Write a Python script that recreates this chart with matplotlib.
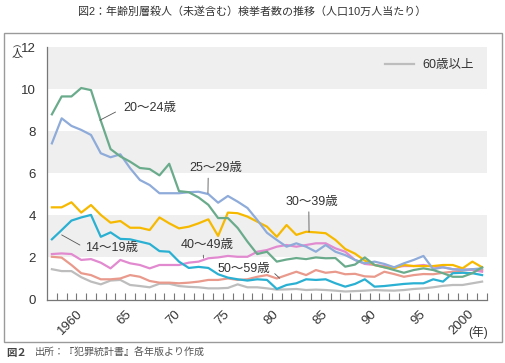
import numpy as np
import matplotlib
matplotlib.use('Agg')
import matplotlib.pyplot as plt
from matplotlib.patches import Rectangle

plt.rcParams['font.family'] = ['Liberation Sans', 'Noto Sans CJK JP']

years = np.arange(1957, 2002)

age_20_24 = [8.8, 9.65, 9.65, 10.05, 9.95, 8.5, 7.15, 6.8, 6.55, 6.25,
             6.2, 5.9, 6.45, 5.15, 5.1, 4.85, 4.5, 3.87, 3.87, 3.4,
             2.75, 2.16, 2.27, 1.8, 1.9, 1.97, 1.92, 2.0, 1.96, 1.97,
             1.56, 1.66, 2.0, 1.64, 1.53, 1.4, 1.27, 1.4, 1.48, 1.4,
             1.25, 1.08, 1.08, 1.25, 1.53]
age_25_29 = [7.42, 8.61, 8.25, 8.06, 7.82, 6.95, 6.76, 6.9, 6.24, 5.68,
             5.44, 5.05, 5.05, 5.05, 5.1, 5.12, 5.01, 4.6, 4.92, 4.65,
             4.35, 3.78, 3.17, 2.83, 2.51, 2.67, 2.51, 2.27, 2.59, 2.27,
             2.11, 1.88, 1.72, 1.8, 1.69, 1.53, 1.72, 1.88, 2.07, 1.44,
             1.53, 1.44, 1.4, 1.44, 1.48]
age_30_39 = [4.38, 4.38, 4.62, 4.13, 4.49, 4.02, 3.65, 3.73, 3.41, 3.41,
             3.3, 3.9, 3.62, 3.38, 3.46, 3.62, 3.81, 3.02, 4.13, 4.1,
             3.94, 3.7, 3.46, 2.98, 3.54, 3.07, 3.22, 3.19, 3.15, 2.83,
             2.4, 2.18, 1.85, 1.64, 1.53, 1.48, 1.64, 1.59, 1.59, 1.59,
             1.64, 1.64, 1.48, 1.8, 1.53]
age_14_19 = [2.86, 3.3, 3.75, 3.9, 4.02, 2.98, 3.19, 2.88, 2.86, 2.75,
             2.64, 2.3, 2.27, 1.8, 1.5, 1.55, 1.5, 1.2, 1.04, 0.96,
             0.9, 0.96, 0.93, 0.5, 0.69, 0.77, 0.96, 0.93, 0.96, 0.77,
             0.61, 0.74, 0.96, 0.61, 0.64, 0.69, 0.74, 0.77, 0.77, 0.96,
             0.85, 1.25, 1.27, 1.25, 1.16]
age_40_49 = [2.16, 2.19, 2.16, 1.88, 1.92, 1.75, 1.48, 1.88, 1.72, 1.64,
             1.48, 1.64, 1.64, 1.64, 1.75, 1.8, 1.96, 2.0, 2.07, 2.03,
             2.03, 2.27, 2.35, 2.51, 2.59, 2.51, 2.59, 2.67, 2.67, 2.43,
             2.27, 1.88, 1.69, 1.64, 1.59, 1.53, 1.59, 1.59, 1.64, 1.56,
             1.53, 1.44, 1.44, 1.4, 1.32]
age_50_59 = [2.03, 1.99, 1.64, 1.25, 1.16, 0.96, 0.96, 1.0, 1.16, 1.08,
             0.88, 0.8, 0.8, 0.77, 0.8, 0.85, 0.93, 0.93, 1.0, 0.93,
             0.96, 1.08, 1.16, 1.0, 1.16, 1.32, 1.16, 1.4, 1.27, 1.32,
             1.2, 1.22, 1.1, 1.08, 1.32, 1.21, 1.08, 1.16, 1.21, 1.2,
             1.27, 1.32, 1.37, 1.44, 1.4]
age_60_up = [1.44, 1.35, 1.35, 1.06, 0.85, 0.72, 0.9, 0.93, 0.69, 0.64,
             0.58, 0.75, 0.75, 0.64, 0.6, 0.58, 0.53, 0.53, 0.55, 0.72,
             0.58, 0.58, 0.53, 0.47, 0.48, 0.5, 0.45, 0.47, 0.45, 0.42,
             0.38, 0.4, 0.42, 0.45, 0.43, 0.42, 0.45, 0.5, 0.53, 0.58,
             0.65, 0.69, 0.69, 0.77, 0.85]

tick_years = [1960, 1965, 1970, 1975, 1980, 1985, 1990, 1995, 2000]
tick_labels = ['1960', '65', '70', '75', '80', '85', '90', '95', '2000']

fig = plt.figure(figsize=(5.05, 3.63), dpi=100)
ax = fig.add_axes([47 / 505, 1 - 299.5 / 363, 440 / 505, 252.5 / 363])

# outer frame and texts
fig.patches.append(Rectangle((4 / 505, 1 - 342 / 363), 498 / 505, 309 / 363,
                             transform=fig.transFigure, fill=False,
                             edgecolor='#9a9a9a', lw=1.0))
fig.text(0.5, 1 - 12 / 363, '図2：年齢別層殺人（未遂含む）検挙者数の推移（人口10万人当たり）',
         ha='center', va='center', fontsize=7.9, color='#333333')
fig.text(6 / 505, 1 - 353 / 363, '図２', ha='left', va='center', fontsize=7.5,
         color='#444444', fontweight='bold')
fig.text(35 / 505, 1 - 353 / 363, '出所：『犯罪統計書』各年版より作成', ha='left',
         va='center', fontsize=7.2, color='#555555')

# background bands
for lo in [2, 6, 10]:
    ax.axhspan(lo, lo + 2, color='#efefef', lw=0, zorder=0)

ax.plot(years, age_60_up, color='#bdbdbd', lw=1.6, label='60歳以上')
ax.plot(years, age_50_59, color='#e99a8c', lw=1.6)
ax.plot(years, age_40_49, color='#e28ad0', lw=1.6)
ax.plot(years, age_14_19, color='#2ab0d2', lw=1.6)
ax.plot(years, age_30_39, color='#f6b900', lw=1.6)
ax.plot(years, age_25_29, color='#8eabd9', lw=1.6)
ax.plot(years, age_20_24, color='#6aab8c', lw=1.6)

ax.set_xlim(1956.5, 2001.5)
ax.set_ylim(0, 12)
ax.set_yticks(range(0, 13, 2))
ax.set_xticks(tick_years)
ax.set_xticklabels(tick_labels, rotation=45, ha='right', va='center',
                   rotation_mode='anchor')
ax.set_xticks(np.arange(1957.5, 2002, 1), minor=True)
ax.tick_params(axis='x', which='major', length=0, pad=9, labelsize=9.5,
               labelcolor='#333333')
ax.tick_params(axis='x', which='minor', length=5, direction='in',
               color='#777777', width=0.8)
ax.tick_params(axis='y', length=0, pad=8, labelsize=9.5, labelcolor='#333333')
for s in ['top', 'right']:
    ax.spines[s].set_visible(False)
for s in ['left', 'bottom']:
    ax.spines[s].set_color('#777777')
    ax.spines[s].set_linewidth(0.9)

# unit labels
fig.text(17 / 505, 1 - 46 / 363, '︵', ha='center', va='center', fontsize=6, color='#333333')
fig.text(17 / 505, 1 - 53 / 363, '人', ha='center', va='center', fontsize=8, color='#333333')
fig.text(17 / 505, 1 - 61 / 363, '︶', ha='center', va='center', fontsize=6, color='#333333')
fig.text(478 / 505, 1 - 332 / 363, '(年)', ha='center', va='center', fontsize=8.5,
         color='#333333')

# series labels
lab = dict(fontsize=9, color='#333333')
arr = dict(arrowstyle='-', color='#555555', lw=0.6, shrinkB=0)
ax.annotate('20～24歳', xy=(1961.9, 8.52), xytext=(1964.3, 9.1), ha='left', va='center',
            arrowprops=dict(arr, shrinkA=4, relpos=(0, 0.5)), **lab)
ax.annotate('25～29歳', xy=(1972.96, 5.06), xytext=(1973.8, 6.25), ha='center',
            va='center', arrowprops=dict(arr, shrinkA=1, relpos=(0.35, 0)), **lab)
ax.annotate('30～39歳', xy=(1983.3, 3.21), xytext=(1983.6, 4.65), ha='center',
            va='center', arrowprops=dict(arr, shrinkA=1, relpos=(0.44, 0)), **lab)
ax.annotate('14～19歳', xy=(1958.0, 3.07), xytext=(1960.4, 2.45), ha='left',
            va='center', arrowprops=dict(arr, shrinkA=2, relpos=(0, 0.5)), **lab)
ax.annotate('40～49歳', xy=(1972.5, 1.97), xytext=(1972.9, 2.59), ha='center',
            va='center', arrowprops=dict(arr, shrinkA=1, relpos=(0.42, 0)), **lab)
ax.annotate('50～59歳', xy=(1980.3, 1.01), xytext=(1976.6, 1.44), ha='center',
            va='center', arrowprops=dict(arr, shrinkA=2, relpos=(1, 0.5)), **lab)

ax.legend(loc='center right', bbox_to_anchor=(0.985, 0.929), frameon=False,
          fontsize=9, handlelength=2.3, handletextpad=0.7, borderpad=0,
          labelcolor='#333333')

fig.savefig('out.png', dpi=100)
